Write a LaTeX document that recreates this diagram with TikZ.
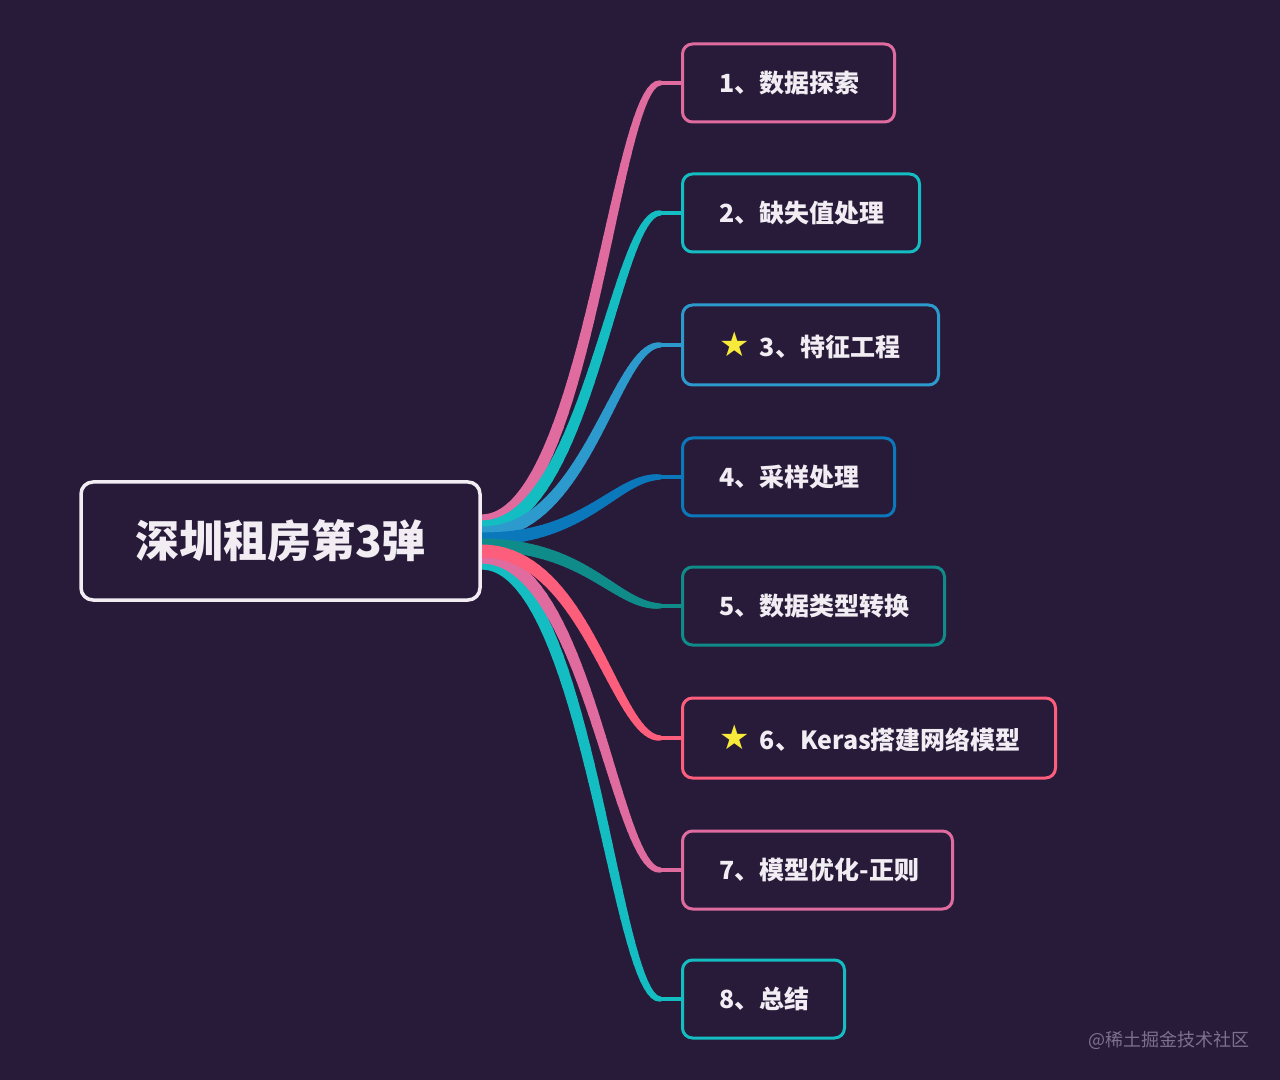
\documentclass[tikz,border=0pt]{standalone}
\usepackage{fontspec}
\setmainfont{Noto Sans CJK SC}
\newfontfamily\symfont{DejaVu Sans}
\usetikzlibrary{calc}
\definecolor{bg}{HTML}{281B3A}
\definecolor{cpink}{HTML}{E06B9F}
\definecolor{ccyan}{HTML}{14BDC1}
\definecolor{cblue}{HTML}{2D9ACD}
\definecolor{cdblue}{HTML}{0B78BC}
\definecolor{cteal}{HTML}{0F8C8A}
\definecolor{ccoral}{HTML}{FD5E7C}
\definecolor{ctext}{HTML}{F1EDF3}
\definecolor{cstar}{HTML}{F7EA3A}
\definecolor{cwm}{HTML}{7C7090}
\pgfdeclarelayer{background}
\pgfsetlayers{background,main}
\newcommand\mybranch[3]{%
  \foreach \k in {0,...,40}{%
    \path (#1) .. controls ($(#1)+(105,0)$) and ($(#2)+(-66,0)$) .. ($(#2)+(-21,0)$) coordinate[pos=\k/40] (bp\k);
  }%
  \foreach \k [evaluate=\k as \w using {0.5*(4.5+8.5*(1-\k/40)^0.6)}, evaluate=\k as \n using {int(\k+1)}] in {0,...,39}{%
    \draw[#3, line width=\w pt, line cap=round] (bp\k) -- (bp\n);
  }%
  \draw[#3, line width=2pt, line cap=round] (bp40) -- (#2);
}
\tikzset{
  child/.style={draw=#1, line width=1.5pt, rounded corners=5pt, fill=bg, minimum height=39pt,
    inner xsep=18.5pt, inner ysep=0pt, anchor=west, text=ctext,
    font=\bfseries\fontsize{12.5}{15}\selectfont}
}
\newcommand\mystar{{\symfont\color{cstar}\fontsize{17}{17}\selectfont ★}\hspace{5pt}}
\newcommand\boxtext[2]{\makebox[#1][l]{#2}}
\begin{document}
\begin{tikzpicture}[x=0.5pt,y=-0.5pt]
\begin{pgfonlayer}{background}
\fill[bg] (0,0) rectangle (1280,1080);
\end{pgfonlayer}
\useasboundingbox (0,0) rectangle (1280,1080);

\node[draw=ctext, line width=1.75pt, rounded corners=6pt, fill=bg, minimum width=199.5pt,
  minimum height=59pt, inner sep=0pt, text=ctext, font=\bfseries\fontsize{22}{26}\selectfont]
  (c) at (280.5,541) {深圳租房第3弹};

\node[child=cpink] (n1) at (681,83) {\boxtext{69pt}{1、数据探索}};
\node[child=ccyan] (n2) at (681,213) {\boxtext{81.5pt}{2、缺失值处理}};
\node[child=cblue, minimum height=40pt] (n3) at (681,345) {\boxtext{91pt}{\mystar 3、特征工程}};
\node[child=cdblue] (n4) at (681,477) {\boxtext{69pt}{4、采样处理}};
\node[child=cteal] (n5) at (681,606) {\boxtext{94pt}{5、数据类型转换}};
\node[child=ccoral, minimum height=40pt] (n6) at (681,738) {\boxtext{149.5pt}{\mystar 6、Keras搭建网络模型}};
\node[child=cpink] (n7) at (681,870) {\boxtext{98pt}{7、模型优化-正则}};
\node[child=ccyan] (n8) at (681,999) {\boxtext{44pt}{8、总结}};

\node[anchor=east, text=cwm, font=\fontsize{9}{11}\selectfont, inner sep=0pt] (wm) at (1250,1040) {@稀土掘金技术社区};

\begin{pgfonlayer}{background}
\coordinate (r1) at ($(c.east)+(0,-20)$);
\coordinate (r2) at ($(c.east)+(0,-14)$);
\coordinate (r3) at ($(c.east)+(0,-8)$);
\coordinate (r4) at ($(c.east)+(0,-2)$);
\coordinate (r5) at ($(c.east)+(0,4)$);
\coordinate (r6) at ($(c.east)+(0,10)$);
\coordinate (r7) at ($(c.east)+(0,16)$);
\coordinate (r8) at ($(c.east)+(0,22)$);
\mybranch{r8}{n8.west}{ccyan}
\mybranch{r7}{n7.west}{cpink}
\mybranch{r1}{n1.west}{cpink}
\mybranch{r2}{n2.west}{ccyan}
\mybranch{r3}{n3.west}{cblue}
\mybranch{r4}{n4.west}{cdblue}
\mybranch{r5}{n5.west}{cteal}
\mybranch{r6}{n6.west}{ccoral}
\end{pgfonlayer}
\end{tikzpicture}
\end{document}
